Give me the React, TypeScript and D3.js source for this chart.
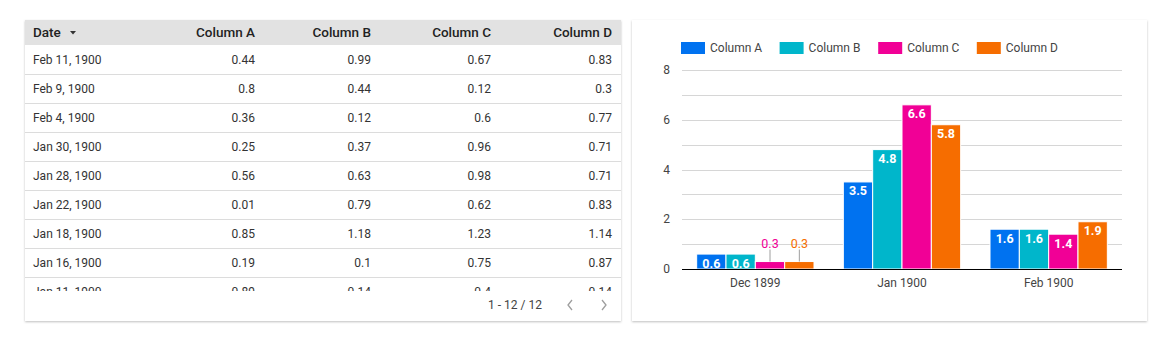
import React from 'react';
import * as d3 from 'd3';

// table rows (visible part)
const dates = ['Feb 11, 1900', 'Feb 9, 1900', 'Feb 4, 1900', 'Jan 30, 1900', 'Jan 28, 1900', 'Jan 22, 1900', 'Jan 18, 1900', 'Jan 16, 1900', 'Jan 11, 1900'];
const colA = ['0.44', '0.8', '0.36', '0.25', '0.56', '0.01', '0.85', '0.19', '0.89'];
const colB = ['0.99', '0.44', '0.12', '0.37', '0.63', '0.79', '1.18', '0.1', '0.14'];
const colC = ['0.67', '0.12', '0.6', '0.96', '0.98', '0.62', '1.23', '0.75', '0.4'];
const colD = ['0.83', '0.3', '0.77', '0.71', '0.71', '0.83', '1.14', '0.87', '0.14'];

// chart: monthly sums
const months = ['Dec 1899', 'Jan 1900', 'Feb 1900'];
const seriesNames = ['Column A', 'Column B', 'Column C', 'Column D'];
const sumA = [0.6, 3.5, 1.6];
const sumB = [0.6, 4.8, 1.6];
const sumC = [0.3, 6.6, 1.4];
const sumD = [0.3, 5.8, 1.9];
const yTicks = [0, 2, 4, 6, 8];

const COLORS = ['#0072f0', '#00b6cb', '#f10096', '#f66d00'];
const FONT = 'Roboto, sans-serif';

function Table() {
  const left = 25;
  const top = 20;
  const w = 596;
  const h = 301;
  const headerH = 25;
  const rowH = 29;
  const colRight = [255, 371, 491, 612];
  const cols = [colA, colB, colC, colD];
  const bodyBottom = 291;

  return (
    <g>
      <rect x={left} y={top} width={w} height={h} fill="#fff" filter="url(#shadow)" />
      <rect x={left} y={top} width={w} height={headerH} fill="#e2e2e2" />
      <text x={33} y={top + 17} fontFamily={FONT} fontSize={13.5} fontWeight={500} fill="#222">Date</text>
      <path d={`M70,${top + 11} l6,0 l-3,3.5 z`} fill="#333" />
      {seriesNames.map((s, i) => (
        <text key={s} x={colRight[i]} y={top + 17} textAnchor="end" fontFamily={FONT} fontSize={13.5} fontWeight={500} fill="#222">
          {s}
        </text>
      ))}
      <defs>
        <clipPath id="tbody">
          <rect x={left} y={top + headerH} width={w} height={bodyBottom - top - headerH} />
        </clipPath>
      </defs>
      <g clipPath="url(#tbody)">
        {dates.map((d, r) => {
          const y0 = top + headerH + r * rowH;
          return (
            <g key={d}>
              <text x={33} y={y0 + 19} fontFamily={FONT} fontSize={12} fill="#333">{d}</text>
              {cols.map((c, i) => (
                <text key={i} x={colRight[i]} y={y0 + 19} textAnchor="end" fontFamily={FONT} fontSize={12} fill="#333">
                  {c[r]}
                </text>
              ))}
              <line x1={left} x2={left + w} y1={y0 + rowH + 0.5} y2={y0 + rowH + 0.5} stroke="#dcdcdc" />
            </g>
          );
        })}
      </g>
      <text x={542} y={309} textAnchor="end" fontFamily={FONT} fontSize={12} fill="#444">1 - 12 / 12</text>
      <path d="M572,300 l-4,5 l4,5" fill="none" stroke="#9e9e9e" strokeWidth={1.3} />
      <path d="M602,300 l4,5 l-4,5" fill="none" stroke="#9e9e9e" strokeWidth={1.3} />
    </g>
  );
}

function Chart() {
  const left = 632;
  const top = 20;
  const w = 515;
  const h = 301;
  const x0 = 682;
  const x1 = 1122;
  const yScale = d3.scaleLinear().domain([0, 8]).range([269, 70]);
  const xScale = d3.scaleBand().domain(months).range([x0, x1]).paddingInner(0.2).paddingOuter(0.1);
  const inner = d3.scaleBand().domain(seriesNames).range([0, xScale.bandwidth()]);
  const series = [sumA, sumB, sumC, sumD];
  const gridVals = d3.range(0, 9);

  return (
    <g>
      <rect x={left} y={top} width={w} height={h} fill="#fff" filter="url(#shadow)" />
      {seriesNames.map((s, i) => {
        const lx = 681 + i * 98.6;
        return (
          <g key={s}>
            <rect x={lx} y={42} width={24} height={12} fill={COLORS[i]} />
            <text x={lx + 29} y={52} fontFamily={FONT} fontSize={12} fill="#444">{s}</text>
          </g>
        );
      })}
      {gridVals.map((v) => (
        <line key={v} x1={x0} x2={x1} y1={Math.round(yScale(v)) + 0.5} y2={Math.round(yScale(v)) + 0.5} stroke="#d6d6d6" />
      ))}
      {yTicks.map((v) => (
        <text key={v} x={670} y={yScale(v) + 4} textAnchor="end" fontFamily={FONT} fontSize={12} fill="#444">
          {v}
        </text>
      ))}
      {months.map((m, mi) => (
        <g key={m}>
          {series.map((vals, si) => {
            const v = vals[mi];
            const bx = (xScale(m) ?? 0) + (inner(seriesNames[si]) ?? 0);
            const bw = inner.bandwidth();
            const by = yScale(v);
            const bh = yScale(0) - by;
            const cx = bx + bw / 2;
            const label = v.toFixed(1);
            return (
              <g key={si}>
                <rect x={bx} y={by} width={bw} height={bh} fill={COLORS[si]} stroke="#fff" strokeWidth={1} />
                {bh >= 12 ? (
                  <text x={cx} y={by + 13.5} textAnchor="middle" fontFamily={FONT} fontSize={12.5} fontWeight={700} fill="#fff">
                    {label}
                  </text>
                ) : (
                  <g>
                    <line x1={cx} x2={cx} y1={by} y2={by - 12} stroke="#9e9e9e" />
                    <text x={cx} y={by - 14} textAnchor="middle" fontFamily={FONT} fontSize={12.5} fill={COLORS[si]}>
                      {label}
                    </text>
                  </g>
                )}
              </g>
            );
          })}
          <text x={(xScale(m) ?? 0) + xScale.bandwidth() / 2} y={287} textAnchor="middle" fontFamily={FONT} fontSize={12} fill="#444">
            {m}
          </text>
        </g>
      ))}
      <line x1={x0} x2={x1} y1={yScale(0) + 0.5} y2={yScale(0) + 0.5} stroke="#000" />
    </g>
  );
}

export default function App() {
  return (
    <svg width={1169} height={342} style={{ position: 'absolute', left: 0, top: 0, background: '#fff' }}>
      <defs>
        <filter id="shadow" x="-5%" y="-5%" width="110%" height="115%">
          <feDropShadow dx={0} dy={1} stdDeviation={1.2} floodColor="#000" floodOpacity={0.25} />
        </filter>
      </defs>
      <Table />
      <Chart />
    </svg>
  );
}
